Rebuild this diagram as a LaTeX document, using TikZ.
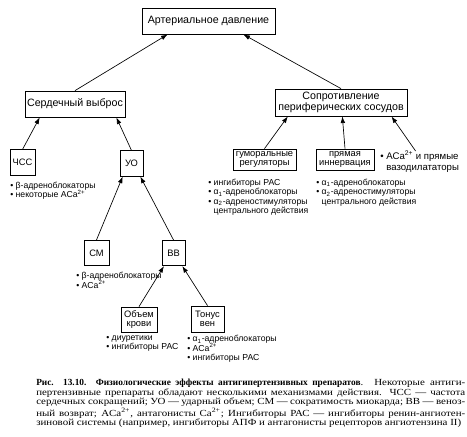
\documentclass[tikz,border=0pt]{standalone}
\usepackage{fontspec}
\setmainfont{Liberation Serif}
\setsansfont{Liberation Sans}
\newfontfamily\capfont[FakeStretch=1.17, BoldFeatures={FakeStretch=1.0}]{Liberation Serif}
\usetikzlibrary{arrows.meta,calc}

\begin{document}
\begin{tikzpicture}[x=0.75pt,y=-0.75pt,
  box/.style={draw, line width=0.6pt, inner sep=0pt, align=center, font=\sffamily\fontsize{8}{8.3}\selectfont},
  sub/.style={box, font=\sffamily\fontsize{7}{7}\selectfont},
  sq/.style={sub, minimum width=18.75pt, minimum height=19pt},
  lst/.style={anchor=north west, inner sep=0pt, align=left, font=\sffamily\fontsize{6.5}{7.1}\selectfont},
  arr/.style={-{Latex[length=5pt,width=3.5pt]}, line width=0.5pt}]
\useasboundingbox (0,0) rectangle (467,436);

\node[box, minimum width=99.75pt, minimum height=19.5pt] (ad) at (208.5,21) {Артериальное давление};
\node[box, minimum width=75pt, minimum height=19.5pt] (sv) at (75,104) {Сердечный выброс};
\node[box, minimum width=99pt, minimum height=20.25pt] (sop) at (341,102.5) {Сопротивление\\периферических сосудов};

\node[sq] (chss) at (22.5,162.5) {ЧСС};
\node[sq, minimum width=17.25pt] (uo) at (131.5,163.5) {УО};
\node[sub, minimum width=47.25pt, minimum height=15.75pt] (gum) at (264.5,159.5) {гуморальные\\регуляторы};
\node[sub, minimum width=43.5pt, minimum height=15.75pt] (pin) at (345,159.5) {прямая\\иннервация};
\node[lst, font=\sffamily\fontsize{7.2}{8.2}\selectfont] (aca) at (380,151) {\textbullet~ACa\textsuperscript{2+} и прямые\\\hphantom{\textbullet~}вазодилататоры};

\node[sq] (sm) at (96.5,253) {СМ};
\node[sq, minimum width=17.25pt] (vv) at (173.5,253) {ВВ};
\node[sub, minimum width=27pt, minimum height=18.75pt] (ob) at (139,319.5) {Объем\\крови};
\node[sub, minimum width=24.75pt, minimum height=19.5pt] (ton) at (207.5,319) {Тонус\\вен};

\node[lst] (chl) at (10,181.5) {\textbullet~β-адреноблокаторы\\\textbullet~некоторые ACa\textsuperscript{2+}};
\node[lst] (gul) at (208,178.5) {\textbullet~ингибиторы РАС\\\textbullet~α\textsubscript{1}-адреноблокаторы\\\textbullet~α\textsubscript{2}-адреностимуляторы\\\hphantom{\textbullet~}центрального действия};
\node[lst] (pil) at (316,178.5) {\textbullet~α\textsubscript{1}-адреноблокаторы\\\textbullet~α\textsubscript{2}-адреностимуляторы\\\hphantom{\textbullet~}центрального действия};
\node[lst] (sml) at (76,272) {\textbullet~β-адреноблокаторы\\\textbullet~ACa\textsuperscript{2+}};
\node[lst] (obl) at (106,335.5) {\textbullet~диуретики\\\textbullet~ингибиторы РАС};
\node[lst] (tol) at (187,335) {\textbullet~α\textsubscript{1}-адреноблокаторы\\\textbullet~ACa\textsuperscript{2+}\\\textbullet~ингибиторы РАС};

\draw[arr] (sv.north) -- ($(ad.south west)!0.195!(ad.south east)$);
\draw[arr] (sop.north) -- ($(ad.south west)!0.76!(ad.south east)$);
\draw[arr] (chss.north) -- ($(sv.south west)!0.15!(sv.south east)$);
\draw[arr] (uo.north) -- ($(sv.south west)!0.91!(sv.south east)$);
\draw[arr] (gum.north) -- ($(sop.south west)!0.1!(sop.south east)$);
\draw[arr] (pin.north) -- ($(sop.south west)!0.51!(sop.south east)$);
\draw[arr] ([xshift=-3pt]aca.north) -- ($(sop.south west)!0.88!(sop.south east)$);
\draw[arr] (sm.north) -- ($(uo.south west)!0.13!(uo.south east)$);
\draw[arr] (vv.north) -- ($(uo.south west)!0.87!(uo.south east)$);
\draw[arr] (ob.north) -- ($(vv.south west)!0.1!(vv.south east)$);
\draw[arr] (ton.north) -- ($(vv.south west)!0.87!(vv.south east)$);

\node[anchor=north west, inner sep=0pt, text width=321.75pt, align=justify, font=\capfont\fontsize{7}{7.1}\selectfont] (cap) at (36,379)
  {\textbf{Рис. 13.10. Физиологические эффекты антигипертензивных препаратов}. Некоторые антиги-\linebreak
  пертензивные препараты обладают несколькими механизмами действия. ЧСС~— частота\linebreak
  сердечных сокращений; УО~— ударный объем; СМ~— сократимость миокарда; ВВ~— веноз-\linebreak
  ный возврат; ACa\textsuperscript{2+}, антагонисты Ca\textsuperscript{2+}; Ингибиторы РАС~— ингибиторы ренин-ангиотен-\linebreak
  зиновой системы (например, ингибиторы АПФ и антагонисты рецепторов ангиотензина II)};
\end{tikzpicture}
\end{document}
